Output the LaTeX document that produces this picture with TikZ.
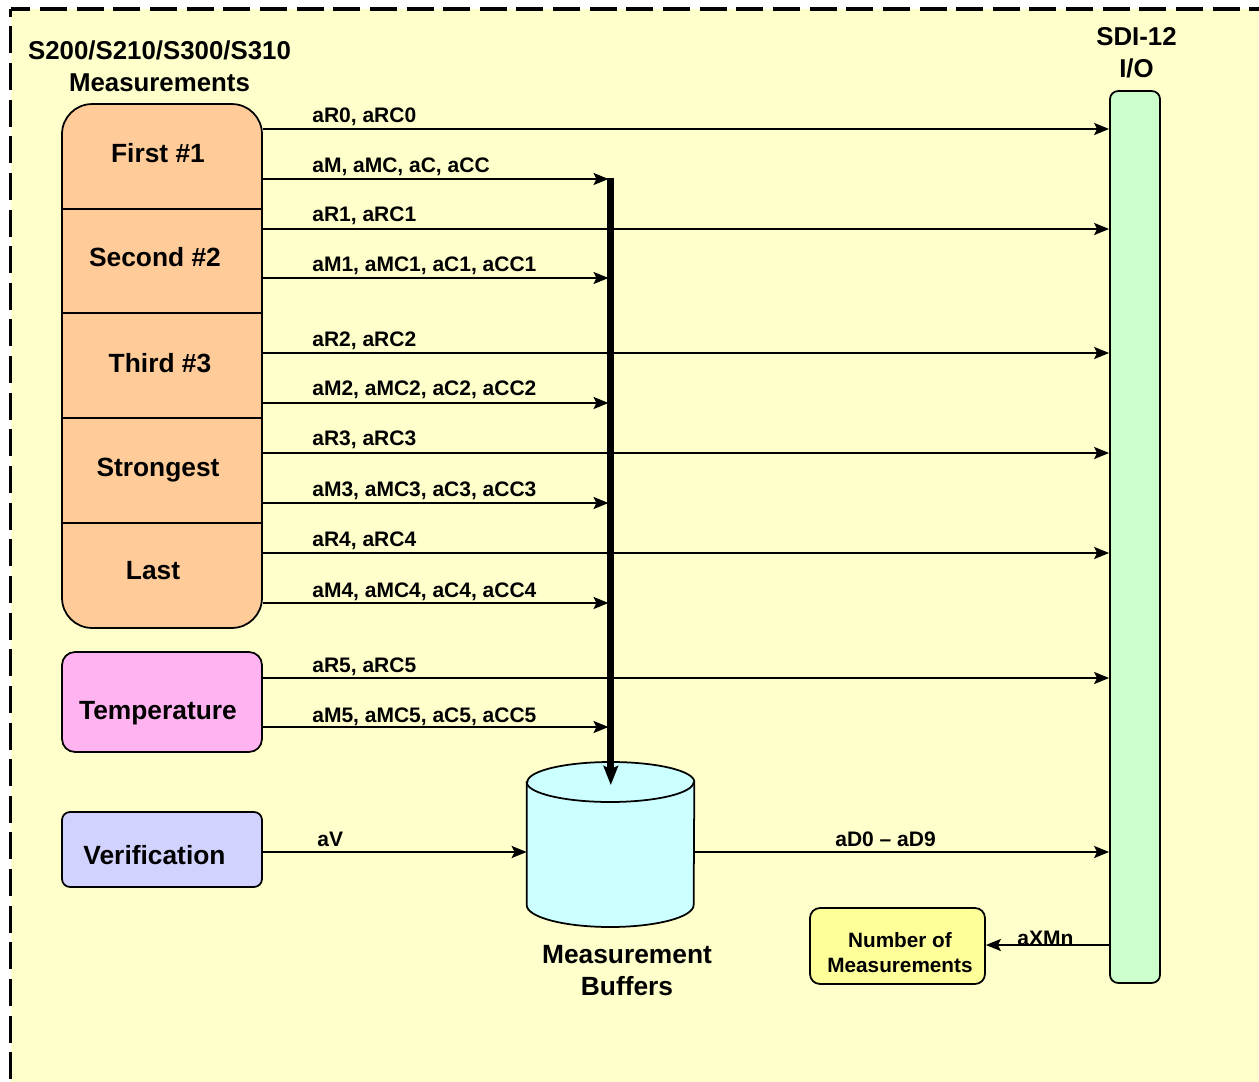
\documentclass[tikz,border=0pt]{standalone}
\usepackage{fontspec}
\setmainfont{Liberation Sans}
\usetikzlibrary{arrows.meta,positioning,calc}
\definecolor{panelfill}{HTML}{FFFFCC}
\definecolor{stackfill}{HTML}{FFCC99}
\definecolor{tempfill}{HTML}{FFB3F0}
\definecolor{verifyfill}{HTML}{D2D2FF}
\definecolor{bufferfill}{HTML}{CCFFFF}
\definecolor{sdifill}{HTML}{CCFFCC}
\definecolor{numfill}{HTML}{FFFF99}
\tikzset{
    titletext/.style={align=center, inner sep=0pt, font=\fontsize{14.7}{18}\selectfont\bfseries},
    bigtext/.style={align=center, inner sep=0pt, font=\fontsize{15}{18}\selectfont\bfseries},
    midtext/.style={align=center, inner sep=0pt, font=\fontsize{11.8}{14.2}\selectfont\bfseries},
    siglabel/.style={anchor=base west, inner sep=0pt, font=\fontsize{11.95}{14}\selectfont\bfseries},
    sensbox/.style={draw, line width=1pt, inner sep=0pt, minimum width=4cm},
    sigarrow/.style={-{Stealth[length=3mm,width=2.4mm,inset=0.6mm]}, line width=1.3pt},
    frameline/.style={line width=2.1pt, dash pattern=on 0.54cm off 0.193cm}
}

\begin{document}
\begin{tikzpicture}[x=0.02cm,y=-0.02cm]
\useasboundingbox (0,0) rectangle (1259,1082);
\clip (0,0) rectangle (1259,1082);
\fill[panelfill] (10.5,9) rectangle (1259,1082);
\draw[frameline, dash phase=0.386cm] (10.5,9) -- (10.5,1082);
\draw[frameline, dash phase=0.14cm] (10.5,9) -- (1259,9);
% sensor blocks
\node[sensbox, fill=stackfill, minimum height=10.48cm, rounded corners=0.6cm] (stack) at (162,366) {};
\draw[line width=0.8pt] (stack.west |- 0,209) -- (stack.east |- 0,209);
\draw[line width=0.8pt] (stack.west |- 0,313) -- (stack.east |- 0,313);
\draw[line width=0.8pt] (stack.west |- 0,418) -- (stack.east |- 0,418);
\draw[line width=0.8pt] (stack.west |- 0,523) -- (stack.east |- 0,523);
\node[bigtext] (first) at (158,153) {First \#1};
\node[bigtext] (second) at (155,257) {Second \#2};
\node[bigtext] (third) at (160,363) {Third \#3};
\node[bigtext] (strongest) at (158,470) {Strongest};
\node[bigtext] (last) at (153,571) {Last};
\node[sensbox, fill=tempfill, minimum height=2cm, rounded corners=0.26cm] (temp) at (162,702) {};
\node[bigtext] (templabel) at (158,713) {Temperature};
\node[sensbox, fill=verifyfill, minimum height=1.5cm, rounded corners=0.16cm] (verify) at (162,849.5) {};
\node[bigtext] (verifylabel) at (154.5,855) {Verification};
% buffer and i/o
\node[inner sep=0pt, minimum width=3.34cm, minimum height=3.3cm] (buffer) at (610.5,844.5) {};
\draw[line width=1pt, fill=bufferfill] (buffer.west |- 0,782) -- (buffer.west |- 0,905)
    arc[start angle=180, end angle=360, x radius=1.67cm, y radius=0.44cm]
    -- (buffer.east |- 0,782)
    arc[start angle=0, end angle=180, x radius=1.67cm, y radius=0.4cm] -- cycle;
\draw[line width=1pt] (buffer.west |- 0,782)
    arc[start angle=180, end angle=360, x radius=1.67cm, y radius=0.4cm];
\node[bigtext] (bufferlabel) at (627,970.5) {Measurement\\[0.5pt]Buffers};
\node[draw, line width=1pt, fill=sdifill, inner sep=0pt, minimum width=1cm, minimum height=17.84cm,
    rounded corners=0.16cm] (sdi) at (1135,537) {};
\node[titletext] (sdilabel) at (1136.5,52.5) {SDI-12\\I/O};
\node[titletext] (title) at (159.5,66) {S200/S210/S300/S310\\Measurements};
\node[sensbox, fill=numfill, minimum width=3.5cm, minimum height=1.52cm, rounded corners=0.2cm] (nummeas) at (897.5,946) {};
\node[midtext] (numlabel) at (900,952.5) {Number of\\Measurements};
% measurement bus
\coordinate (bustop) at (610.8,178);
\coordinate (bustip) at (610.8,785);
\coordinate (busin) at (608.5,178);
\draw[-{Stealth[length=3.8mm,width=2.9mm,inset=0.6mm]}, line width=3.8pt] (bustop) -- (bustip);
% commands
\draw[sigarrow] (stack.east |- 0,129) -- (sdi.west |- 0,129);
\draw[sigarrow] (stack.east |- 0,179) -- (busin |- 0,179);
\draw[sigarrow] (stack.east |- 0,229) -- (sdi.west |- 0,229);
\draw[sigarrow] (stack.east |- 0,278) -- (busin |- 0,278);
\draw[sigarrow] (stack.east |- 0,353) -- (sdi.west |- 0,353);
\draw[sigarrow] (stack.east |- 0,403) -- (busin |- 0,403);
\draw[sigarrow] (stack.east |- 0,453) -- (sdi.west |- 0,453);
\draw[sigarrow] (stack.east |- 0,503) -- (busin |- 0,503);
\draw[sigarrow] (stack.east |- 0,553) -- (sdi.west |- 0,553);
\draw[sigarrow] (stack.east |- 0,603) -- (busin |- 0,603);
\draw[sigarrow] (temp.east |- 0,678) -- (sdi.west |- 0,678);
\draw[sigarrow] (temp.east |- 0,727) -- (busin |- 0,727);
\draw[sigarrow] (verify.east |- 0,852) -- (buffer.west |- 0,852);
\draw[sigarrow] (buffer.east |- 0,852) -- (sdi.west |- 0,852);
\draw[sigarrow] (sdi.west |- 0,945) -- (nummeas.east |- 0,945);
\node[siglabel] (lr0) at (312,122) {aR0, aRC0};
\node[siglabel] (lm0) at (312,172) {aM, aMC, aC, aCC};
\node[siglabel] (lr1) at (312,221) {aR1, aRC1};
\node[siglabel] (lm1) at (312,271) {aM1, aMC1, aC1, aCC1};
\node[siglabel] (lr2) at (312,346) {aR2, aRC2};
\node[siglabel] (lm2) at (312,395) {aM2, aMC2, aC2, aCC2};
\node[siglabel] (lr3) at (312,445) {aR3, aRC3};
\node[siglabel] (lm3) at (312,496) {aM3, aMC3, aC3, aCC3};
\node[siglabel] (lr4) at (312,546) {aR4, aRC4};
\node[siglabel] (lm4) at (312,597) {aM4, aMC4, aC4, aCC4};
\node[siglabel] (lr5) at (312,672) {aR5, aRC5};
\node[siglabel] (lm5) at (312,722) {aM5, aMC5, aC5, aCC5};
\node[siglabel] (lv) at (317,846) {aV};
\node[siglabel] (ld) at (835,846) {aD0 -- aD9};
\node[siglabel] (lx) at (1017,945) {aXMn};
\end{tikzpicture}
\end{document}
